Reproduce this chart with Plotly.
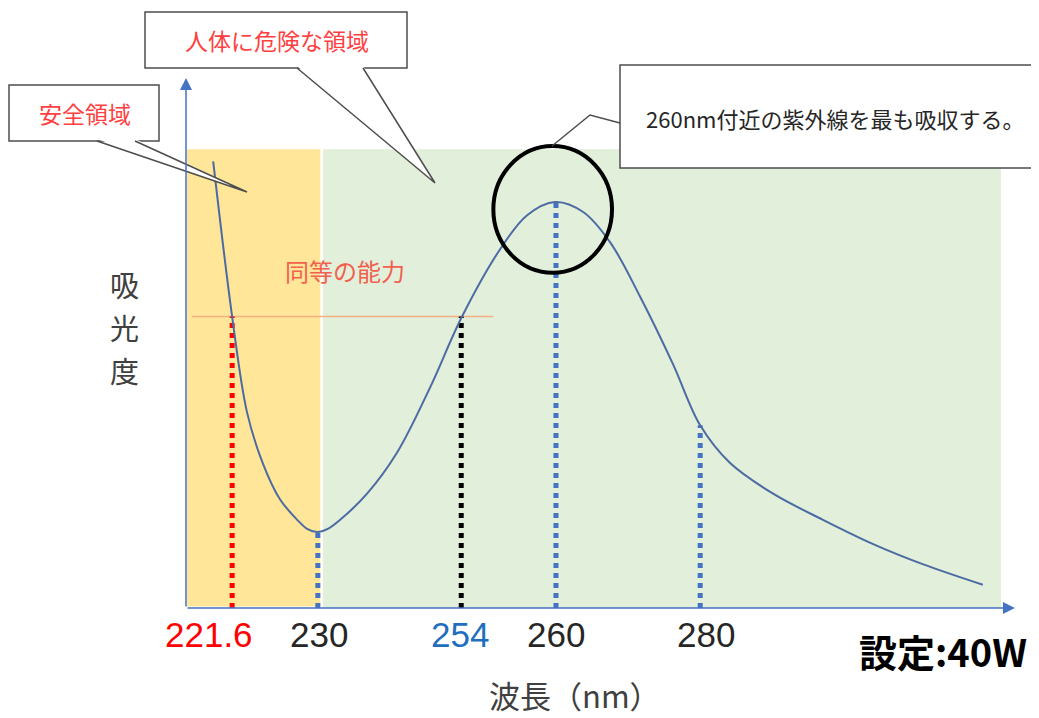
import plotly.graph_objects as go

# ---------------- data (schematic units: position 0-100, absorbance 0-100) -------------
curve_x = [3.3, 5.6, 7.4, 9.3, 11.4, 13.5, 14.7, 15.9, 17.2, 18.7, 22.0, 25.6, 29.6, 33.5,
           38.1, 41.4, 44.8, 48.2, 51.5, 55.1, 59.1, 62.4, 66.0, 71.2, 77.3, 83.4, 89.4, 96.7]
curve_y = [84.6, 55.2, 37.1, 27.5, 20.6, 16.7, 15.0, 14.4, 15.0, 16.7, 21.7, 29.4, 41.7, 55.2,
           67.9, 74.4, 76.9, 75.0, 69.2, 59.0, 46.2, 34.6, 27.5, 21.7, 16.7, 12.1, 8.3, 4.4]

wavelength_labels = ["221.6", "230", "254", "260", "280"]
wavelength_pos = [5.6, 16.0, 33.4, 44.9, 62.4]        # marker line positions
wavelength_abs = [55.2, 14.4, 55.2, 76.9, 34.6]       # curve height at markers
label_pos = [2.8, 16.1, 33.3, 44.9, 63.1]             # tick label centres

equal_level = 55.2
equal_span = [0.7, 37.3]

safe_zone = [0.1, 16.3]
danger_zone = [16.6, 98.9]
zone_top = 86.9

# ---------------- styling ----------------
OFF = 8                      # page body margin
W_FIG, H_FIG = 1039 - OFF, 718 - OFF
L, R, T, B = 186 - OFF, 29, 80 - OFF, 118 - OFF
PW, PH = W_FIG - L - R, H_FIG - T - B

def px(x, y):
    """reference-picture pixel -> paper coords"""
    return (x - OFF - L) / PW, (H_FIG - B - (y - OFF)) / PH

JP = "Noto Sans CJK JP"
marker_colors = ["#FF0000", "#4472C4", "#000000", "#4472C4", "#4472C4"]
label_colors = ["#FF0000", "#262626", "#1F6FC0", "#262626", "#262626"]
AXIS = "#4472C4"

fig = go.Figure()

def text(xp, yp, s, size, color, family=JP):
    ax_, ay_ = px(xp, yp)
    fig.add_annotation(x=ax_, y=ay_, xref="paper", yref="paper", text=s, showarrow=False,
                       xanchor="center", yanchor="middle",
                       font=dict(family=family, size=size, color=color))

# zones
fig.add_shape(type="rect", xref="x", yref="y", x0=safe_zone[0], x1=safe_zone[1],
              y0=0.3, y1=zone_top, fillcolor="#FFE699", line_width=0, layer="below")
fig.add_shape(type="rect", xref="x", yref="y", x0=danger_zone[0], x1=danger_zone[1],
              y0=0, y1=zone_top, fillcolor="#E2EFDA", line_width=0, layer="below")

# equal-ability line
fig.add_trace(go.Scatter(x=equal_span, y=[equal_level, equal_level], mode="lines",
                         line=dict(color="#F4B183", width=1.5), hoverinfo="skip"))

# dotted marker lines
for xp, yp, c in zip(wavelength_pos, wavelength_abs, marker_colors):
    fig.add_trace(go.Scatter(x=[xp, xp], y=[0, yp], mode="lines",
                             line=dict(color=c, width=5, dash="5px,5px"), hoverinfo="skip"))

# absorbance curve
fig.add_trace(go.Scatter(x=curve_x, y=curve_y, mode="lines",
                         line=dict(color="#4C6BA3", width=2, shape="spline", smoothing=1.0),
                         hoverinfo="skip"))

# peak circle
fig.add_shape(type="circle", xref="x", yref="y", x0=37.3, x1=51.7, y0=63.5, y1=87.5,
              line=dict(color="#000000", width=4))

# axes with arrows
fig.add_annotation(x=100.6, y=0, ax=0, ay=0, xref="x", yref="y", axref="x", ayref="y",
                   text="", showarrow=True, arrowhead=2, arrowsize=1.6, arrowwidth=1.5,
                   arrowcolor=AXIS)
fig.add_annotation(x=0, y=100.4, ax=0, ay=0, xref="x", yref="y", axref="x", ayref="y",
                   text="", showarrow=True, arrowhead=2, arrowsize=1.6, arrowwidth=1.5,
                   arrowcolor=AXIS)

# tick labels
for lab, xp, c in zip(wavelength_labels, label_pos, label_colors):
    fig.add_annotation(x=xp / 100, y=px(0, 634)[1], xref="paper", yref="paper",
                       text=lab, showarrow=False, xanchor="center", yanchor="middle",
                       font=dict(family="Liberation Sans", size=35, color=c))

# axis titles
text(575, 694, "波長（nm）", 31, "#404040")
for ch, yy in zip("吸光度", [284, 327, 370]):
    text(124, yy, ch, 29, "#404040")

# setting label
text(943, 650, "<b>設定:40W</b>", 38, "#000000")

# equal ability text
text(345, 270, "同等の能力", 24, "#F2604E")

# ---------------- callouts ----------------
BORDER = dict(color="#4D4D4D", width=1.5)

def box(x0, y0, x1, y1):
    a0, b0 = px(x0, y1)
    a1, b1 = px(x1, y0)
    fig.add_shape(type="rect", xref="paper", yref="paper", x0=a0, x1=a1, y0=b0, y1=b1,
                  fillcolor="white", line=BORDER)

def pointer(base0, base1, tip):
    p0, p1, pt = px(*base0), px(*base1), px(*tip)
    q0 = px(base0[0], base0[1] - 2)
    q1 = px(base1[0], base1[1] - 2)
    fig.add_shape(type="path", xref="paper", yref="paper",
                  path=f"M{q0[0]},{q0[1]} L{pt[0]},{pt[1]} L{q1[0]},{q1[1]} Z",
                  fillcolor="white", line_width=0)
    fig.add_shape(type="path", xref="paper", yref="paper",
                  path=f"M{p0[0]},{p0[1]} L{pt[0]},{pt[1]} L{p1[0]},{p1[1]}",
                  line=BORDER)

box(9, 85, 159, 141)
pointer((97, 141), (135, 141), (247, 192))
box(145, 12, 407, 68)
pointer((297, 68), (363, 68), (435, 183))
box(620, 65, 1036, 168)
c0, c1, c2 = px(620, 123), px(590, 115), px(552, 146)
fig.add_shape(type="path", xref="paper", yref="paper",
              path=f"M{c0[0]},{c0[1]} L{c1[0]},{c1[1]} L{c2[0]},{c2[1]}", line=BORDER)

text(85, 113, "安全領域", 23, "#FF4040")
text(277, 40, "人体に危険な領域", 23, "#FF4040")
text(835, 118, "260nm付近の紫外線を最も吸収する。", 22, "#262626")

fig.update_layout(
    width=W_FIG, height=H_FIG,
    margin=dict(l=L, r=R, t=T, b=B),
    paper_bgcolor="white", plot_bgcolor="white",
    showlegend=False,
    xaxis=dict(range=[0, 100], showgrid=False, zeroline=False, showticklabels=False,
               showline=False, fixedrange=True),
    yaxis=dict(range=[0, 100], showgrid=False, zeroline=False, showticklabels=False,
               showline=False, fixedrange=True),
)

fig.write_html("out.html")
